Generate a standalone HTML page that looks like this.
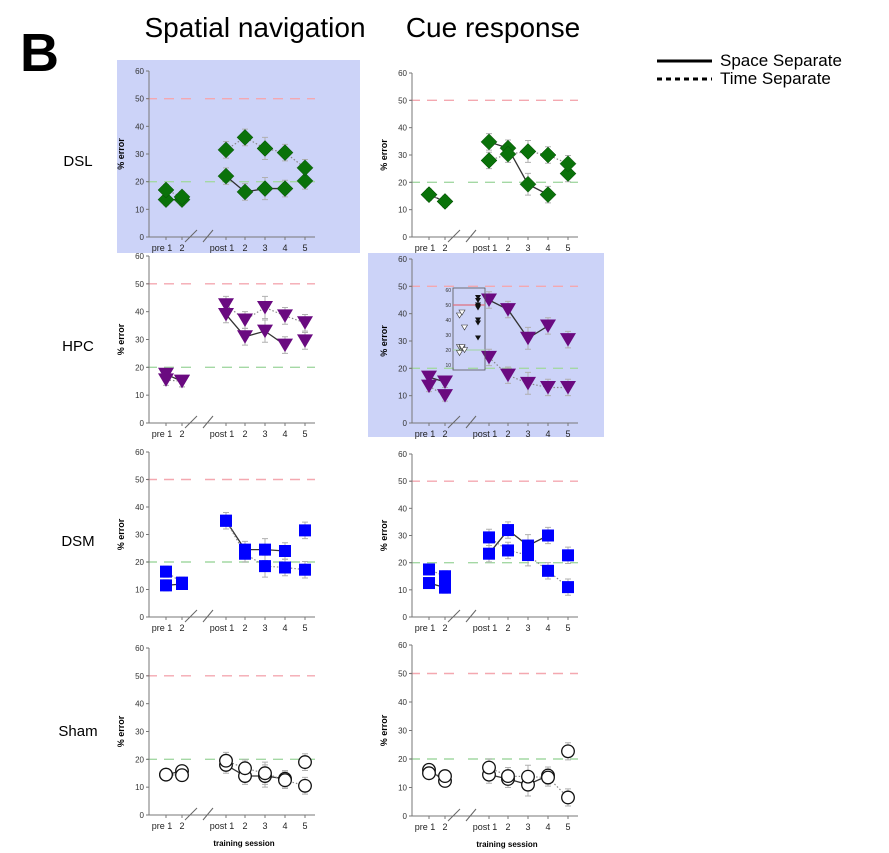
<!DOCTYPE html>
<html><head><meta charset="utf-8"><style>
body{margin:0;background:#fff;}
svg{display:block;font-family:"Liberation Sans",Arial,sans-serif;}
</style></head><body>
<svg id="fig" width="889" height="853" viewBox="0 0 889 853" xmlns="http://www.w3.org/2000/svg">
<rect x="0" y="0" width="889" height="853" fill="#fff"/>
<rect x="117" y="60" width="243" height="193" fill="#ccd3f8"/>
<rect x="368" y="253" width="236" height="184" fill="#ccd3f8"/>
<text x="20" y="71" font-size="54" font-weight="bold">B</text>
<text x="255" y="37" font-size="28" text-anchor="middle">Spatial navigation</text>
<text x="493" y="37" font-size="28" text-anchor="middle">Cue response</text>
<g>
<line x1="657" y1="61" x2="712" y2="61" stroke="#000" stroke-width="3"/>
<text x="720" y="66" font-size="17">Space Separate</text>
<line x1="657" y1="79" x2="712" y2="79" stroke="#000" stroke-width="3" stroke-dasharray="5,4"/>
<text x="720" y="84" font-size="17">Time Separate</text>
</g>
<text x="78" y="166" font-size="15" text-anchor="middle">DSL</text>
<text x="78" y="351" font-size="15" text-anchor="middle">HPC</text>
<text x="78" y="546" font-size="15" text-anchor="middle">DSM</text>
<text x="78" y="736" font-size="15" text-anchor="middle">Sham</text>
</svg>
<script>
const categories = ["pre 1","2","post 1","2","3","4","5"];
const yTicks = [0,10,20,30,40,50,60];
const chanceLevel = 50, criterionLevel = 20;

const dslSpatialSolid = [13.5,13.5,22,16.3,17.5,17.5,20.3];
const dslSpatialDotted = [17,14.5,31.5,36,32,30.5,25];
const dslCueSolid = [15.5,13,34.8,32.5,19.3,15.5,23.2];
const dslCueDotted = [15.5,13,28,30.3,31.3,30,26.8];
const hpcSpatialSolid = [17.5,15,39,31,33,28,29.5];
const hpcSpatialDotted = [15.5,15,42.5,37,41.5,38.5,36];
const hpcCueSolid = [16.8,15,45,41.5,31,35.5,30.5];
const hpcCueDotted = [13.5,10,24,17.5,14.5,13,13];
const dsmSpatialSolid = [11.5,12,35,24.5,24.5,24,31.5];
const dsmSpatialDotted = [16.5,12.5,35,23,18.5,18,17.2];
const dsmCueSolid = [12.5,10.8,23.3,32,26.3,30,22.7];
const dsmCueDotted = [17.5,15,29.3,24.5,22.8,17,11];
const shamSpatialSolid = [14.5,15.8,18,14,14,13,19];
const shamSpatialDotted = [14.5,14.3,19.5,16.8,15,12.5,10.5];
const shamCueSolid = [16.2,12.3,14.5,13,11,14.2,22.7];
const shamCueDotted = [15,14,17,14,13.8,13.5,6.5];
const errSize = [2,2,3,3,4,3,3];

const NS="http://www.w3.org/2000/svg";
const svg=document.getElementById('fig');
function mk(tag,attrs,parent){const e=document.createElementNS(NS,tag);for(const k in attrs)e.setAttribute(k,attrs[k]);(parent||svg).appendChild(e);return e;}
const xOff=[17,33,77,96,116,136,156];

function panel(name,ax,y0,y60,solid,dotted,marker,color,showXTitle,connectSolid5){
  const g=mk('g',{});
  
  
  const ys=v=>y0-(v/60)*(y0-y60);
  const xs=i=>ax+xOff[i];
  [[chanceLevel,'#f4a8b0','chance-line'],[criterionLevel,'#a4d8a4','criterion-line']].forEach(([v,c,n])=>{
    [[ax-2,ax+44],[ax+56,ax+166]].forEach(([a,b])=>{
      const l=mk('line',{x1:a,x2:b,y1:ys(v),y2:ys(v),stroke:c,'stroke-width':1.4,'stroke-dasharray':'10,7'},g);
      
      
    });
  });
  const yl=mk('line',{x1:ax,x2:ax,y1:y0,y2:ys(60),stroke:'#777','stroke-width':1},g);
  
  
  const xl=mk('line',{x1:ax,x2:ax+166,y1:y0,y2:y0,stroke:'#777','stroke-width':1},g);
  
  
  yTicks.forEach(t=>{
    mk('line',{x1:ax-3,x2:ax,y1:ys(t),y2:ys(t),stroke:'#777'},g);
    const tx=mk('text',{x:ax-5,y:ys(t)+3,'font-size':8,'text-anchor':'end',fill:'#333'},g);
    tx.textContent=t;
    
    
  });
  categories.forEach((c,i)=>{
    mk('line',{x1:xs(i),x2:xs(i),y1:y0,y2:y0+3,stroke:'#777'},g);
    const tx=mk('text',{x:xs(i)+(i==0||i==2?-4:0),y:y0+14,'font-size':9,'text-anchor':'middle',fill:'#222'},g);
    tx.textContent=c;
    
    
  });
  mk('line',{x1:ax+36,y1:y0+5,x2:ax+48,y2:y0-7,stroke:'#666'},g);
  mk('line',{x1:ax+54,y1:y0+5,x2:ax+64,y2:y0-7,stroke:'#666'},g);
  const yt=mk('text',{x:0,y:0,'font-size':9,'font-weight':'bold','text-anchor':'middle',transform:`translate(${ax-25},${ys(30)}) rotate(-90)`},g);
  yt.textContent='% error';
  
  
  if(showXTitle){
    const xt=mk('text',{x:ax+95,y:y0+31,'font-size':8,'font-weight':'bold','text-anchor':'middle'},g);
    xt.textContent='training session';
    
    
  }
  [solid,dotted].forEach(arr=>arr.forEach((v,i)=>{
    const e=errSize[i]*(y0-y60)/60;
    const b=mk('path',{d:`M${xs(i)},${ys(v)-e}V${ys(v)+e}M${xs(i)-3},${ys(v)-e}h6M${xs(i)-3},${ys(v)+e}h6`,stroke:'#b0b0b0','stroke-width':1,fill:'none'},g);
    
    
  }));
  function seg(arr,dash,n){
    const idx=[[0,1],[2,3,4,5].concat(n?[6]:[])];
    idx.forEach(ii=>{
      const d=ii.map((i,k)=>(k?'L':'M')+xs(i)+','+ys(arr[i])).join('');
      const p=mk('path',{d:d,fill:'none',stroke:dash?'#888':'#333','stroke-width':dash?1.2:1.3,'stroke-dasharray':dash?'1.5,2':'none'},g);
      
      
    });
  }
  seg(solid,false,connectSolid5);
  seg(dotted,true,true);
  [[solid,'space'],[dotted,'time']].forEach(([arr,s])=>arr.forEach((v,i)=>{
    const x=xs(i),y=ys(v);let m;
    if(marker=='diamond')m=mk('path',{d:`M${x},${y-8}L${x+8},${y}L${x},${y+8}L${x-8},${y}Z`,fill:color,stroke:'#0a4a0a','stroke-width':0.5},g);
    else if(marker=='tri')m=mk('path',{d:`M${x-8},${y-6.5}L${x+8},${y-6.5}L${x},${y+7}Z`,fill:color},g);
    else if(marker=='square')m=mk('rect',{x:x-6,y:y-6,width:12,height:12,fill:color},g);
    else m=mk('circle',{cx:x,cy:y,r:6.3,fill:'#fff',stroke:'#111','stroke-width':1.3},g);
    
    
  }));
  return g;
}
panel('dsl-spatial',149,237,71,dslSpatialSolid,dslSpatialDotted,'diamond','#0a720a',false,false);
panel('dsl-cue',412,237,73,dslCueSolid,dslCueDotted,'diamond','#0a720a',false,false);
panel('hpc-spatial',149,423,256,hpcSpatialSolid,hpcSpatialDotted,'tri','#6a0a80',false,false);
panel('hpc-cue',412,423,259,hpcCueSolid,hpcCueDotted,'tri','#6a0a80',false,false);
panel('dsm-spatial',149,617,452,dsmSpatialSolid,dsmSpatialDotted,'square','#0000ff',false,false);
panel('dsm-cue',412,617,454,dsmCueSolid,dsmCueDotted,'square','#0000ff',false,false);
panel('sham-spatial',149,815,648,shamSpatialSolid,shamSpatialDotted,'circle','#fff',true,false);
panel('sham-cue',412,816,645,shamCueSolid,shamCueDotted,'circle','#fff',true,false);

const insetOpen=[43,45,35,22,21,20,18,22];
const insetFilled=[55,53,50,49,48,40,38,28];
const ig=mk('g',{});


const ib=mk('rect',{x:453,y:288,width:32,height:82,fill:'none',stroke:'#555','stroke-width':0.8},ig);


const iy=v=>365-(v-10)*(75/50);
mk('line',{x1:453,x2:485,y1:iy(50),y2:iy(50),stroke:'#e07080','stroke-width':1.2},ig);
mk('line',{x1:453,x2:485,y1:iy(20),y2:iy(20),stroke:'#9fd6a0','stroke-width':1},ig);
[10,20,30,40,50,60].forEach(t=>{
  const tx=mk('text',{x:451,y:iy(t)+2,'font-size':5,'text-anchor':'end',fill:'#333'},ig);
  tx.textContent=t;
  
  
});
insetOpen.forEach((v,i)=>{
  const x=462+(i%3-1)*2.5,y=iy(v);
  const p=mk('path',{d:`M${x-3},${y-2.5}L${x+3},${y-2.5}L${x},${y+2.5}Z`,fill:'#fff',stroke:'#333','stroke-width':0.6},ig);
  
  
});
insetFilled.forEach((v,i)=>{
  const x=478,y=iy(v);
  const p=mk('path',{d:`M${x-3},${y-2.5}L${x+3},${y-2.5}L${x},${y+2.5}Z`,fill:'#111'},ig);
  
  
});
</script>
</body></html>
